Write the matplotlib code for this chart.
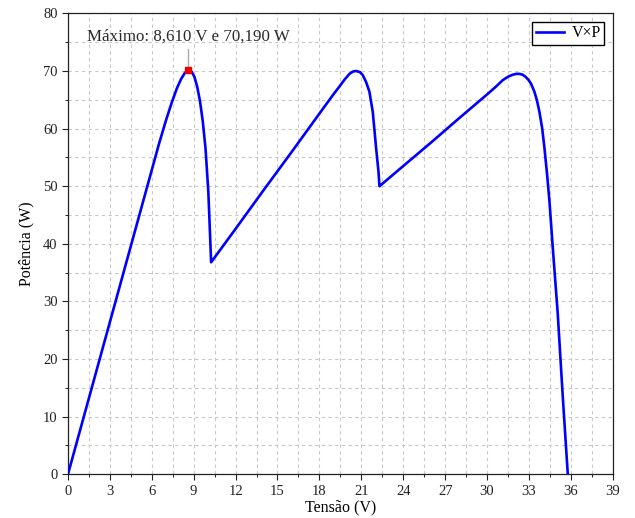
import matplotlib
matplotlib.use("Agg")
import matplotlib.pyplot as plt
from matplotlib.ticker import MultipleLocator

plt.rcParams["font.family"] = ["Liberation Serif", "DejaVu Serif"]

# P-V curve of the shaded array (voltage in V, power in W)
tensao = [0.0, 2.0, 4.0, 6.0, 6.5, 7.0, 7.4, 7.8, 8.1, 8.35, 8.61,
          8.85, 9.05, 9.25, 9.45, 9.65, 9.85, 10.05, 10.25,
          12.0, 14.0, 16.0, 18.0, 18.96, 19.4, 19.8, 20.15, 20.4, 20.63,
          20.9, 21.1, 21.34, 21.58, 21.82, 22.06, 22.23, 22.3,
          24.0, 26.0, 28.0, 29.94, 30.6, 31.12, 31.5, 31.84, 32.1, 32.32,
          32.55, 32.75, 32.95, 33.15, 33.39, 33.57, 33.75, 33.95, 34.11,
          34.3, 34.47, 34.70, 35.06, 35.42, 35.78]
potencia = [0.0, 17.6, 35.2, 52.8, 57.2, 61.3, 64.3, 67.0, 68.6, 69.6, 70.19,
            69.9, 69.0, 67.3, 64.8, 61.3, 56.5, 49.0, 36.8,
            42.6, 49.3, 55.9, 62.6, 65.8, 67.2, 68.5, 69.5, 69.9, 70.0,
            69.8, 69.3, 68.1, 66.4, 62.9, 56.6, 52.5, 50.0,
            53.5, 57.6, 61.8, 65.8, 67.2, 68.4, 69.0, 69.35, 69.5, 69.5,
            69.35, 69.0, 68.5, 67.8, 66.4, 64.9, 62.9, 60.0, 56.6,
            52.0, 47.3, 39.5, 27.9, 13.5, 0.0]

v_max = 8.610
p_max = 70.190
rotulo_max = "Máximo: 8,610 V e 70,190 W"

fig = plt.figure(figsize=(6.35, 5.18), dpi=100)
ax = fig.add_axes([0.107, 0.0844, 0.858, 0.8898])

ax.plot(tensao, potencia, color="#0000ff", lw=1.9, label="V×P", zorder=3,
        solid_joinstyle="round")

# marker and pin for the maximum power point
ax.plot([v_max, v_max], [p_max, 73.9], color="#aaaaaa", lw=1.0, zorder=2)
ax.plot([v_max], [p_max], marker="s", ms=5, color="#ee0000", zorder=4,
        mec="#ee0000")
ax.text(v_max, 74.6, rotulo_max, ha="center", va="bottom", fontsize=12.2,
        color="#2a2a2a")

ax.set_xlim(0, 39)
ax.set_ylim(0, 80)
ax.xaxis.set_major_locator(MultipleLocator(3))
ax.xaxis.set_minor_locator(MultipleLocator(1.5))
ax.yaxis.set_major_locator(MultipleLocator(10))
ax.yaxis.set_minor_locator(MultipleLocator(5))

ax.grid(True, which="both", color="#c8c8c8", ls=(0, (3, 3)), lw=0.8)
ax.set_axisbelow(True)

ax.tick_params(which="major", direction="out", length=4, width=0.8,
               labelsize=10.5, colors="#222222")
ax.tick_params(which="minor", direction="out", length=2.5, width=0.6)
for s in ax.spines.values():
    s.set_linewidth(0.9)
    s.set_color("#222222")

ax.set_xlabel("Tensão (V)", fontsize=11.5, labelpad=1)
ax.set_ylabel("Potência (W)", fontsize=11.5, labelpad=6)

leg = ax.legend(loc="upper right", fontsize=11.5, fancybox=False,
                edgecolor="black", framealpha=1, borderpad=0.2,
                handlelength=1.8, handletextpad=0.45,
                borderaxespad=0.55)
leg.get_frame().set_linewidth(1.0)

fig.savefig("out.png", dpi=100)
